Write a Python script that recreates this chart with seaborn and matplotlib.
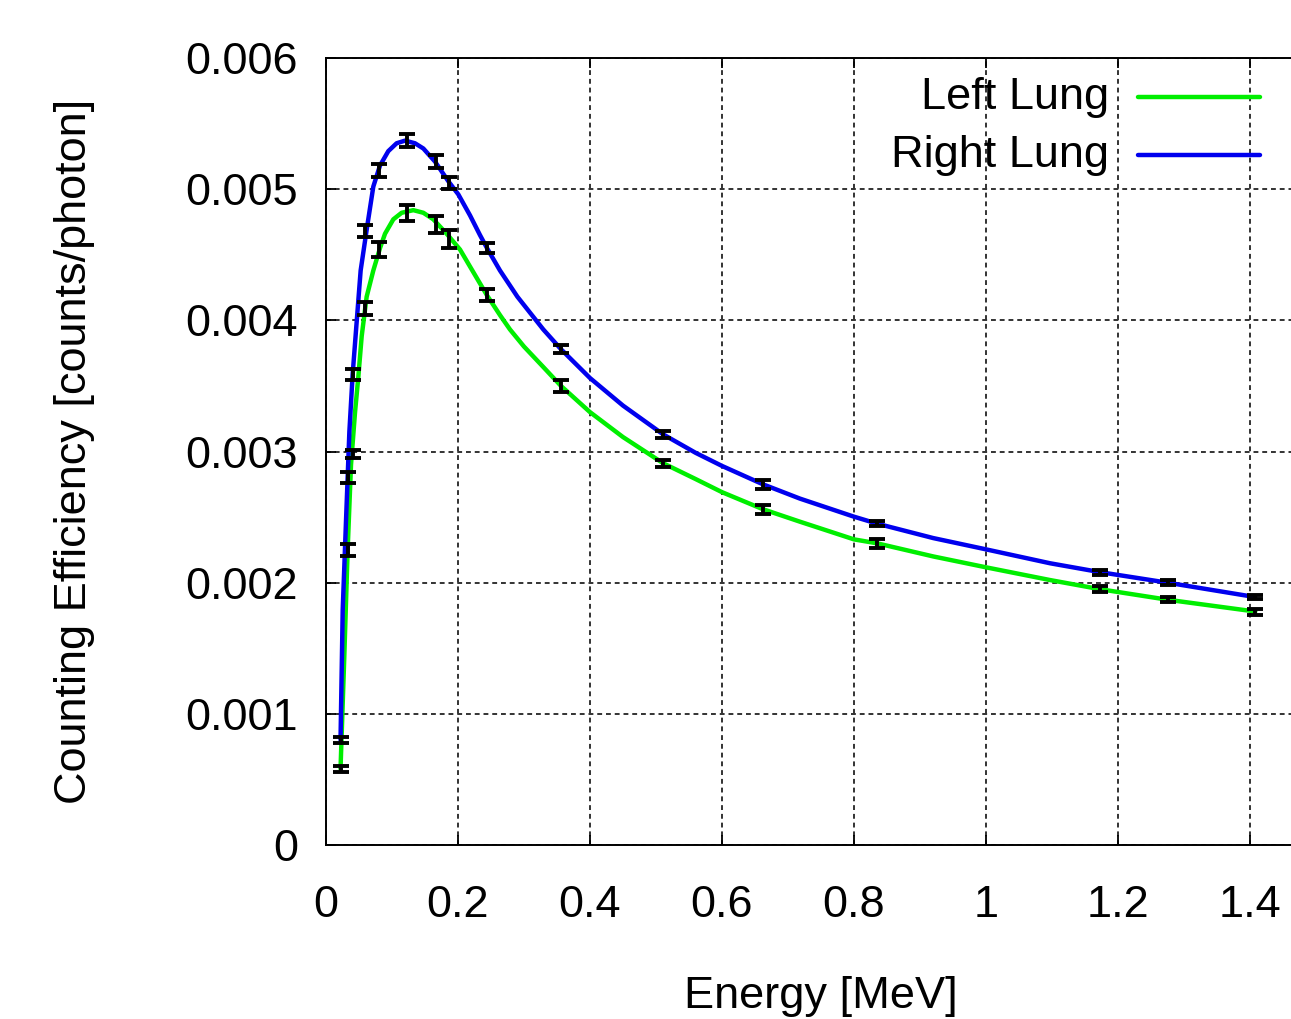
import matplotlib
matplotlib.use("Agg")
import matplotlib.pyplot as plt
import seaborn as sns
import numpy as np
import pandas as pd

# ---- measured data points ----
energy = [0.022, 0.0328, 0.0404, 0.0595, 0.081, 0.122, 0.166, 0.186, 0.244,
          0.356, 0.511, 0.662, 0.835, 1.173, 1.275, 1.408]
left_eff = [0.00058, 0.00225, 0.00298, 0.00409, 0.00454, 0.00482, 0.00473, 0.00462,
            0.00419, 0.00350, 0.00291, 0.00256, 0.00230, 0.00195, 0.00187, 0.00178]
left_err = [0.000025, 0.000043, 0.000030, 0.000050, 0.000055, 0.000060, 0.000065, 0.000072,
            0.000046, 0.000048, 0.000027, 0.000033, 0.000036, 0.000023, 0.000019, 0.000023]
right_eff = [0.00080, 0.00280, 0.00359, 0.00468, 0.00514, 0.00537, 0.00521, 0.00505,
             0.00455, 0.00378, 0.00313, 0.00275, 0.00245, 0.00208, 0.00200, 0.00189]
right_err = [0.000025, 0.000040, 0.000042, 0.000043, 0.000050, 0.000052, 0.000050, 0.000046,
             0.000040, 0.000030, 0.000030, 0.000033, 0.000017, 0.000018, 0.000017, 0.000018]

# ---- smooth fitted curves ----
left_curve_E = [0.022, 0.0278, 0.0328, 0.0379, 0.044, 0.049, 0.0541, 0.0616, 0.0717,
                0.0818, 0.0894, 0.102, 0.1146, 0.1323, 0.1475, 0.1626, 0.1828, 0.203,
                0.2182, 0.244, 0.2636, 0.2788, 0.30, 0.33, 0.356, 0.40, 0.45, 0.511,
                0.56, 0.60, 0.662, 0.718, 0.80, 0.835, 0.92, 1.0, 1.097, 1.173, 1.275, 1.408]
left_curve = [0.00058, 0.00145, 0.00225, 0.00290, 0.00330, 0.00357, 0.00388, 0.00418, 0.00438,
              0.00455, 0.00466, 0.00477, 0.00482, 0.00484, 0.00482, 0.00477, 0.00466, 0.00454,
              0.00441, 0.00419, 0.00404, 0.00393, 0.00380, 0.00364, 0.00350, 0.00330, 0.00311, 0.00291,
              0.00279, 0.00269, 0.00256, 0.002465, 0.00233, 0.00230, 0.00220, 0.002117, 0.00202,
              0.00195, 0.00187, 0.00178]
right_curve_E = [0.022, 0.0253, 0.0303, 0.0354, 0.0404, 0.0465, 0.0525, 0.0616, 0.0717,
                 0.0818, 0.0944, 0.107, 0.1197, 0.1348, 0.1475, 0.1652, 0.1854, 0.2005,
                 0.2182, 0.2333, 0.244, 0.2636, 0.29, 0.3293, 0.356, 0.40, 0.45, 0.511,
                 0.56, 0.60, 0.662, 0.718, 0.80, 0.835, 0.92, 1.0, 1.097, 1.173, 1.275, 1.408]
right_curve = [0.00080, 0.00179, 0.00247, 0.00315, 0.00359, 0.00399, 0.00438, 0.00469, 0.00502,
               0.00518, 0.00529, 0.00535, 0.00537, 0.00535, 0.00531, 0.00521, 0.00506, 0.00496,
               0.00480, 0.00465, 0.00455, 0.00438, 0.00418, 0.00393, 0.00378, 0.00356, 0.00335, 0.00313,
               0.00299, 0.00289, 0.00275, 0.002641, 0.002503, 0.00245, 0.00234, 0.002254, 0.002148,
               0.00208, 0.00200, 0.00189]

x_ticks = [0, 0.2, 0.4, 0.6, 0.8, 1.0, 1.2, 1.4]
x_tick_labels = ["0", "0.2", "0.4", "0.6", "0.8", "1", "1.2", "1.4"]
y_ticks = [0, 0.001, 0.002, 0.003, 0.004, 0.005, 0.006]
y_tick_labels = ["0", "0.001", "0.002", "0.003", "0.004", "0.005", "0.006"]
series_names = ["Left Lung", "Right Lung"]
colors = ["#00ee00", "#0000ee"]

sns.set_style("white")
plt.rcParams['font.family'] = ['Liberation Sans', 'DejaVu Sans']
plt.rcParams['text.color'] = 'black'
plt.rcParams['axes.labelcolor'] = 'black'

FS = 32.5

fig = plt.figure(figsize=(12.91, 10.19), dpi=100)
# right edge of axes extends past the figure (cropped as in the original)
ax = fig.add_axes([326/1291, 1-845/1019, (1316-326)/1291, (845-58)/1019])

df_left = pd.DataFrame({"E": left_curve_E, "eff": left_curve})
df_right = pd.DataFrame({"E": right_curve_E, "eff": right_curve})
sns.lineplot(data=df_left, x="E", y="eff", ax=ax, color=colors[0], linewidth=3.2,
             sort=False, estimator=None, zorder=3)
sns.lineplot(data=df_right, x="E", y="eff", ax=ax, color=colors[1], linewidth=3.2,
             sort=False, estimator=None, zorder=3)

for eff, err in [(left_eff, left_err), (right_eff, right_err)]:
    ax.errorbar(energy, eff, yerr=err, fmt='none', ecolor='black', elinewidth=2.8,
                capsize=5.5, capthick=2.8, zorder=4)

ax.set_xlim(0, 1.5)
ax.set_ylim(0, 0.006)
ax.set_xticks(x_ticks)
ax.set_xticklabels(x_tick_labels)
ax.set_yticks(y_ticks)
ax.set_yticklabels(y_tick_labels)
ax.tick_params(axis='x', which='both', direction='in', length=7, width=1.3,
               top=True, bottom=True, labelsize=FS, pad=29, colors='black')
ax.tick_params(axis='y', which='both', direction='in', length=7, width=1.3,
               left=True, right=True, labelsize=FS, pad=20, colors='black')
for s in ax.spines.values():
    s.set_color('black')
    s.set_linewidth(1.4)

ax.grid(True, color='#333333', linestyle=(0, (2.5, 2)), linewidth=1.4)
ax.set_axisbelow(True)

ax.set_xlabel("Energy [MeV]", fontsize=FS, labelpad=36)
ax.set_ylabel("Counting Efficiency [counts/photon]", fontsize=FS, labelpad=65)

# gnuplot-style key: text right-aligned, sample line on its right
key_y = [0.0057, 0.00526]
for name, col, yv in zip(series_names, colors, key_y):
    ax.text(1.187, yv, name, ha='right', va='center', fontsize=FS, zorder=5)
    ax.plot([1.23, 1.415], [yv, yv], color=col, linewidth=3.2, zorder=5)

fig.savefig("out.png", dpi=100)
